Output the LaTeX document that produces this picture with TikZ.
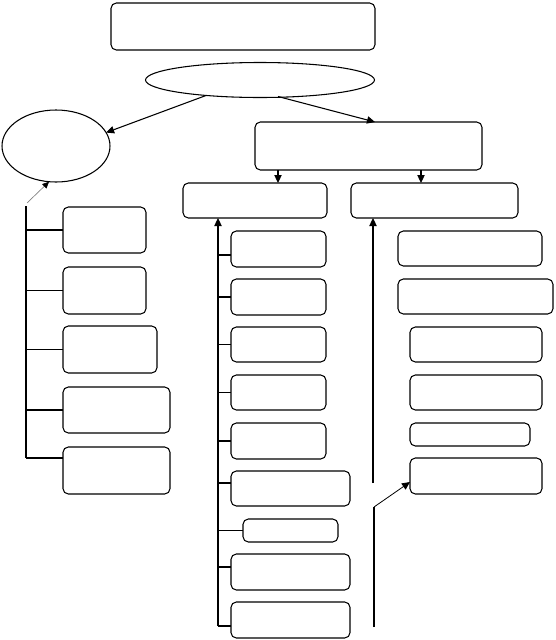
\documentclass[tikz,border=0pt]{standalone}
\usetikzlibrary{shapes.geometric,arrows.meta,calc}
\newcommand\rbx[5]{\node[box,minimum width={(#4-#2)*0.75pt},minimum height={(#5-#3)*0.75pt}] (#1) at ({(#2+#4)/2},{(#3+#5)/2}) {};}
\begin{document}
\begin{tikzpicture}[x=0.75pt,y=-0.75pt,line width=0.8pt,
  box/.style={draw,rounded corners=4pt,inner sep=0pt,outer sep=0pt},
  oval/.style={draw,ellipse,inner sep=0pt,outer sep=0pt},
  arr/.style={-{Triangle[length=6pt,width=5.5pt]}},
  thinarr/.style={draw=gray,line width=0.5pt,-{Triangle[length=5pt,width=4.5pt,color=black]}}]
\useasboundingbox (0,0) rectangle (556,640);
% top
\rbx{top}{111}{3}{375}{50}
\node[oval,minimum width={229*0.75pt},minimum height={35*0.75pt}] (e1) at (260,80) {};
\node[oval,minimum width={108*0.75pt},minimum height={72*0.75pt}] (e2) at (56,146) {};
\rbx{mt}{255}{122}{482}{170}
\draw[arr] ($(e1.south)+(-54,-2)$) -- (e2.15);
\draw[arr] ($(e1.south)+(18,-1)$) -- ($(mt.north west)+(120,0)$);
% left column
\rbx{l1}{63}{207}{146}{253}
\rbx{l2}{63}{267}{146}{314}
\rbx{l3}{63}{326}{157}{373}
\rbx{l4}{63}{387}{170}{433}
\rbx{l5}{63}{447}{170}{494}
\coordinate (lp) at (27,203);
\draw[thinarr] (lp) -- (e2.259);
\coordinate (ls) at (26,206);
\coordinate (lb) at (26,458);
\draw (ls) -- (lb);
\foreach \n in {l1,l2,l3,l4} \draw (ls |- \n.west) -- (\n.west);
\draw (lb) -- (lb -| l5.west);
% middle headers
\rbx{lh}{183}{183}{327}{218}
\rbx{rh}{351}{183}{518}{218}
\draw[arr] ($(mt.south west)+(23,0)$) -- ($(lh.north west)+(95,0)$);
\draw[arr] ($(mt.south west)+(166,0)$) -- ($(rh.north west)+(70,0)$);
% middle column
\rbx{m1}{231}{231}{326}{267}
\rbx{m2}{231}{279}{326}{315}
\rbx{m3}{231}{327}{326}{362}
\rbx{m4}{231}{375}{326}{410}
\rbx{m5}{231}{423}{326}{459}
\rbx{m6}{231}{471}{350}{506}
\rbx{m7}{243}{519}{338}{542}
\rbx{m8}{231}{554}{350}{590}
\rbx{m9}{231}{602}{350}{638}
\coordinate (mb) at (218,626);
\draw[arr] (mb) -- (lh.south -| mb);
\draw (mb |- 0,255) -- (m1.west |- 0,255);
\foreach \n in {m2,m3,m4,m5,m7} \draw (mb |- \n.west) -- (\n.west);
\draw (mb |- 0,483) -- (m6.west |- 0,483);
\draw (mb |- 0,567) -- (m8.west |- 0,567);
\draw (mb) -- (mb -| m9.west);
% right column
\rbx{r1}{398}{231}{542}{266}
\rbx{r2}{398}{279}{553}{314}
\rbx{r3}{410}{327}{542}{362}
\rbx{r4}{410}{375}{542}{410}
\rbx{r5}{410}{423}{530}{446}
\rbx{r6}{410}{458}{542}{494}
\coordinate (rt) at (373,483);
\draw[arr] (rt) -- (rh.south -| rt);
\coordinate (rk) at (374,507);
\coordinate (rbot) at (374,627);
\draw (rbot) -- (rk);
\draw[arr,line width=0.6pt] (rk) -- ($(r6.west)+(0,6)$);
\end{tikzpicture}
\end{document}
